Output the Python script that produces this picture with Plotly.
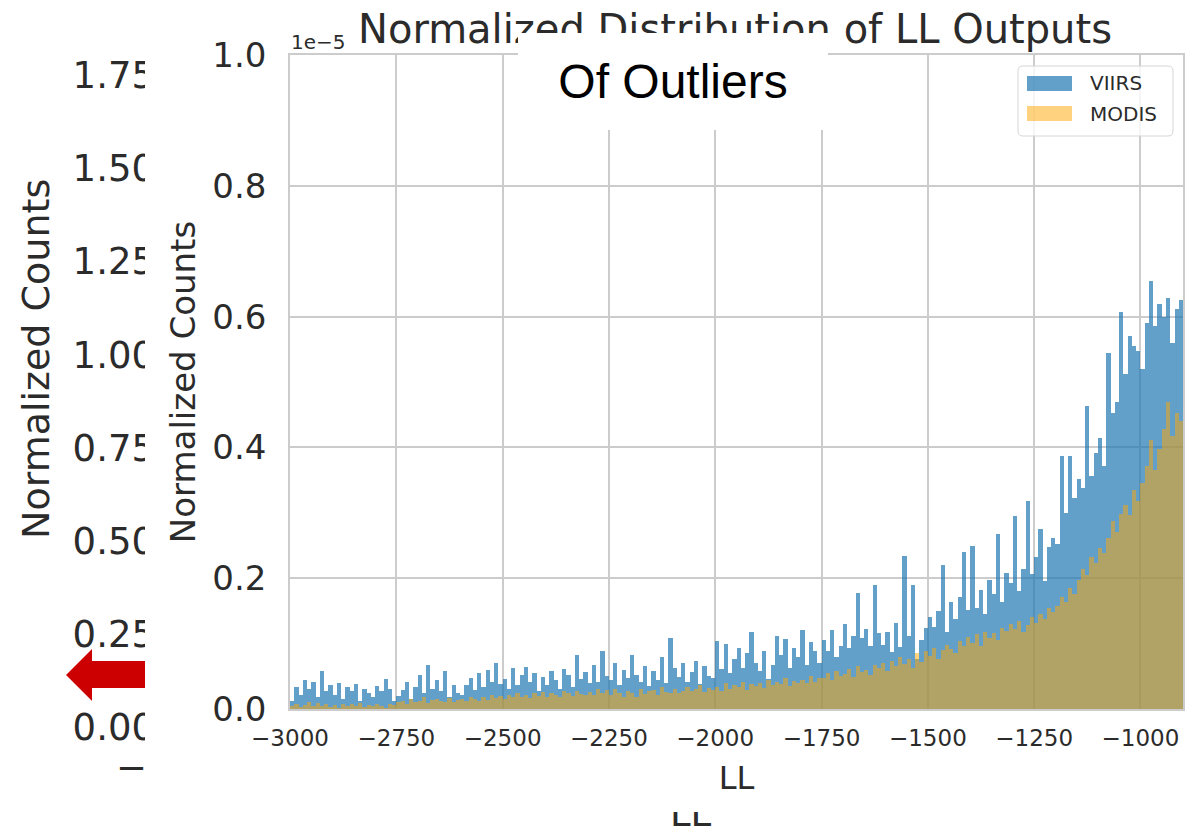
import numpy as np
import plotly.graph_objects as go

W, H = 1191, 838
TXT = "#2b2b2b"
GRID = "#cccccc"

# ---- data -------------------------------------------------------------
# LL histogram: 10-unit bins from -3000 to -900, heights in units of 1e-5
bin_width = 10
bin_left = np.arange(-3000, -900, bin_width)

viirs = [
    0.012, 0.034, 0.021, 0.045, 0.030,  0.041, 0.018, 0.058, 0.027, 0.036,
    0.022, 0.040, 0.015, 0.033, 0.028,  0.038, 0.012, 0.030, 0.024, 0.019,
    0.035, 0.027, 0.046, 0.031, 0.013,  0.020, 0.029, 0.041, 0.016, 0.034,
    0.052, 0.025, 0.067, 0.030, 0.044,  0.028, 0.058, 0.019, 0.036, 0.024,
    0.021, 0.037, 0.048, 0.029, 0.055,  0.033, 0.060, 0.042, 0.071, 0.038,
    0.046, 0.030, 0.063, 0.036, 0.052,  0.064, 0.041, 0.055, 0.028, 0.049,
    0.037, 0.058, 0.045, 0.031, 0.061,  0.052, 0.034, 0.083, 0.046, 0.057,
    0.039, 0.068, 0.041, 0.089, 0.050,  0.044, 0.071, 0.036, 0.060, 0.048,
    0.082, 0.052, 0.041, 0.066, 0.035,  0.058, 0.045, 0.079, 0.039, 0.108,
    0.063, 0.049, 0.070, 0.042, 0.056,  0.073, 0.038, 0.066, 0.051, 0.047,
    0.104, 0.061, 0.099, 0.055, 0.077,  0.094, 0.063, 0.085, 0.118, 0.071,
    0.058, 0.089, 0.046, 0.067, 0.112,  0.083, 0.107, 0.062, 0.094, 0.079,
    0.121, 0.068, 0.102, 0.088, 0.071,  0.105, 0.088, 0.121, 0.079, 0.096,
    0.130, 0.094, 0.112, 0.177, 0.108,  0.122, 0.096, 0.190, 0.116, 0.098,
    0.118, 0.087, 0.131, 0.095, 0.234,  0.112, 0.190, 0.076, 0.105, 0.124,
    0.141, 0.126, 0.150, 0.220, 0.118,  0.163, 0.138, 0.171, 0.240, 0.152,
    0.250, 0.154, 0.182, 0.146, 0.198,  0.176, 0.267, 0.163, 0.208, 0.192,
    0.295, 0.180, 0.214, 0.318, 0.206,  0.232, 0.275, 0.196, 0.248, 0.262,
    0.252, 0.387, 0.300, 0.387, 0.322,  0.352, 0.338, 0.463, 0.356, 0.392,
    0.414, 0.372, 0.545, 0.452, 0.470,  0.607, 0.512, 0.570, 0.555, 0.548,
    0.520, 0.590, 0.655, 0.585, 0.620,  0.600, 0.628, 0.560, 0.612, 0.625,
]

modis = [
    0.004, 0.008, 0.003, 0.006, 0.010,  0.005, 0.009, 0.004, 0.007, 0.003,
    0.006, 0.002, 0.008, 0.005, 0.007,  0.004, 0.009, 0.003, 0.006, 0.005,
    0.008, 0.004, 0.002, 0.007, 0.006,  0.010, 0.013, 0.008, 0.015, 0.011,
    0.012, 0.018, 0.009, 0.014, 0.016,  0.013, 0.011, 0.017, 0.010, 0.014,
    0.015, 0.012, 0.019, 0.016, 0.013,  0.018, 0.014, 0.021, 0.017, 0.020,
    0.016, 0.022, 0.019, 0.025, 0.018,  0.021, 0.017, 0.024, 0.020, 0.026,
    0.019, 0.025, 0.022, 0.018, 0.027,  0.024, 0.020, 0.028, 0.023, 0.021,
    0.026, 0.022, 0.030, 0.025, 0.029,  0.022, 0.031, 0.024, 0.019, 0.028,
    0.025, 0.018, 0.030, 0.023, 0.027,  0.029, 0.022, 0.033, 0.026, 0.024,
    0.031, 0.025, 0.028, 0.034, 0.027,  0.030, 0.036, 0.026, 0.032, 0.029,
    0.034, 0.028, 0.039, 0.031, 0.036,  0.033, 0.041, 0.029, 0.038, 0.035,
    0.040, 0.032, 0.044, 0.037, 0.042,  0.038, 0.047, 0.035, 0.043, 0.040,
    0.045, 0.039, 0.050, 0.042, 0.048,  0.047, 0.055, 0.044, 0.058, 0.051,
    0.053, 0.061, 0.049, 0.066, 0.057,  0.060, 0.052, 0.068, 0.063, 0.071,
    0.058, 0.074, 0.065, 0.080, 0.069,  0.077, 0.062, 0.085, 0.072, 0.088,
    0.081, 0.094, 0.076, 0.090, 0.098,  0.092, 0.085, 0.104, 0.097, 0.110,
    0.101, 0.114, 0.096, 0.118, 0.108,  0.116, 0.105, 0.124, 0.119, 0.130,
    0.122, 0.135, 0.117, 0.128, 0.140,  0.132, 0.146, 0.138, 0.155, 0.149,
    0.158, 0.172, 0.163, 0.185, 0.176,  0.198, 0.214, 0.205, 0.232, 0.224,
    0.246, 0.238, 0.262, 0.287, 0.271,  0.298, 0.312, 0.296, 0.335, 0.318,
    0.345, 0.372, 0.412, 0.365, 0.398,  0.428, 0.470, 0.418, 0.452, 0.440,
]
assert len(viirs) == len(bin_left) == len(modis)

series_names = ["VIIRS", "MODIS"]
series_colors = ["rgba(31,119,180,0.7)", "rgba(255,165,0,0.5)"]

x_ticks = [-3000, -2750, -2500, -2250, -2000, -1750, -1500, -1250, -1000]
y_ticks = [0.0, 0.2, 0.4, 0.6, 0.8, 1.0]
# axis of the panel behind (only its labels remain visible)
back_ticks = [0.0, 0.25, 0.5, 0.75, 1.0, 1.25, 1.5, 1.75]


def fx(p):
    return p / W


def fy(p):
    return 1 - p / H


fig = go.Figure()
for name, vals, col in zip(series_names, [viirs, modis], series_colors):
    fig.add_trace(go.Bar(
        x=bin_left + bin_width / 2, y=vals, width=bin_width, name=name,
        marker=dict(color=col, line=dict(width=0)),
        showlegend=False, hoverinfo="skip",
    ))
# anchor trace for the back panel's axis
fig.add_trace(go.Scatter(x=[None], y=[None], xaxis="x2", yaxis="y2",
                         showlegend=False, hoverinfo="skip"))

back_lo, back_hi = 760, 40            # pixel extent of the back axis
back_px_per_unit = 372.4
back_zero = 727
back_range = [(back_zero - back_lo) / back_px_per_unit,
              (back_zero - back_hi) / back_px_per_unit]

fig.update_layout(
    width=W, height=H,
    margin=dict(l=0, r=0, t=0, b=0, autoexpand=False),
    paper_bgcolor="white", plot_bgcolor="white",
    font=dict(family="DejaVu Sans", color=TXT),
    barmode="overlay", bargap=0,
    xaxis=dict(
        domain=[fx(290), fx(1183)], range=[-3000, -900], anchor="y", automargin=False,
        tickvals=x_ticks, ticktext=["\u2212%d" % abs(v) for v in x_ticks],
        tickfont=dict(size=23, color=TXT), ticks="", ticklabelstandoff=8,
        showgrid=True, gridcolor=GRID, gridwidth=1.5,
        showline=True, mirror=True, linecolor=GRID, linewidth=1.5,
        zeroline=False,
        title=dict(text="LL", font=dict(size=32, color=TXT), standoff=16),
    ),
    yaxis=dict(
        domain=[fy(709), fy(55)], range=[0, 1.0], anchor="x", automargin=False,
        tickvals=y_ticks, tickformat=".1f",
        tickfont=dict(size=34, color=TXT), ticks="", ticklabelstandoff=15,
        showgrid=True, gridcolor=GRID, gridwidth=1.5,
        showline=True, mirror=True, linecolor=GRID, linewidth=1.5,
        zeroline=False,
        title=dict(text="Normalized Counts", font=dict(size=34, color=TXT), standoff=6),
    ),
    xaxis2=dict(domain=[0, 0.04], visible=False, anchor="y2", automargin=False),
    yaxis2=dict(
        domain=[fy(back_lo), fy(back_hi)], range=back_range, automargin=False,
        anchor="free", position=fx(155),
        tickvals=back_ticks, ticktext=["%.2f" % v for v in back_ticks],
        tickfont=dict(size=37, color=TXT), ticks="", ticklabelstandoff=0,
        showgrid=False, showline=False, zeroline=False,
    ),
)

shapes = []
# white edge of the front panel that trims the back panel's labels
shapes.append(dict(type="rect", xref="paper", yref="paper", layer="above",
                   x0=fx(145), x1=fx(166), y0=fy(790), y1=fy(40),
                   fillcolor="white", line=dict(width=0)))
# red arrow pointing left
arrow = [(66, 675), (92, 649), (92, 661), (145, 661), (145, 688), (92, 688), (92, 701)]
path = "M " + " L ".join("%.5f,%.5f" % (fx(a), fy(b)) for a, b in arrow) + " Z"
shapes.append(dict(type="path", xref="paper", yref="paper", layer="above",
                   path=path, fillcolor="#cc0000", line=dict(width=0)))
# legend frame with rounded corners
lx0, lx1, ly0, ly1, r = 1018, 1173, 66, 136, 5
pts = (f"M {fx(lx0 + r)},{fy(ly0)} L {fx(lx1 - r)},{fy(ly0)} "
       f"Q {fx(lx1)},{fy(ly0)} {fx(lx1)},{fy(ly0 + r)} L {fx(lx1)},{fy(ly1 - r)} "
       f"Q {fx(lx1)},{fy(ly1)} {fx(lx1 - r)},{fy(ly1)} L {fx(lx0 + r)},{fy(ly1)} "
       f"Q {fx(lx0)},{fy(ly1)} {fx(lx0)},{fy(ly1 - r)} L {fx(lx0)},{fy(ly0 + r)} "
       f"Q {fx(lx0)},{fy(ly0)} {fx(lx0 + r)},{fy(ly0)} Z")
shapes.append(dict(type="path", xref="paper", yref="paper", layer="above", path=pts,
                   fillcolor="rgba(255,255,255,0.8)", line=dict(color="#d6d6d6", width=1)))
legend_rows = [83.5, 113.5]
for yc, col in zip(legend_rows, series_colors):
    shapes.append(dict(type="rect", xref="paper", yref="paper", layer="above",
                       x0=fx(1027), x1=fx(1072), y0=fy(yc + 7.5), y1=fy(yc - 7.5),
                       fillcolor=col, line=dict(width=0)))
fig.update_layout(shapes=shapes)

ann = []
for yc, name in zip(legend_rows, series_names):
    ann.append(dict(text=name, xref="paper", yref="paper", x=fx(1088), y=fy(yc),
                    xanchor="left", yanchor="middle", showarrow=False,
                    font=dict(size=20, color=TXT)))
# back panel leftovers
ann.append(dict(text="Normalized Counts", xref="paper", yref="paper", x=fx(36), y=fy(359),
                textangle=-90, showarrow=False, xanchor="center", yanchor="middle",
                font=dict(size=38, color=TXT)))
ann.append(dict(text="\u2212", xref="paper", yref="paper", x=fx(149), y=fy(767),
                xanchor="right", yanchor="middle", showarrow=False,
                font=dict(size=37, color=TXT)))
ann.append(dict(text="LL", xref="paper", yref="paper", x=fx(691), y=fy(813),
                xanchor="center", yanchor="middle", showarrow=False,
                font=dict(size=37, color=TXT)))
ann.append(dict(text=" ", xref="paper", yref="paper", x=fx(691), y=fy(801),
                xanchor="center", yanchor="middle", showarrow=False,
                width=90, height=22, bgcolor="white", borderpad=0, borderwidth=0))
# front panel title and exponent
ann.append(dict(text="Normalized Distribution of LL Outputs", xref="paper", yref="paper",
                x=fx(735), y=fy(29), xanchor="center", yanchor="middle", showarrow=False,
                font=dict(size=40, color=TXT)))
ann.append(dict(text="1e\u22125", xref="paper", yref="paper", x=fx(289), y=fy(42),
                xanchor="left", yanchor="middle", showarrow=False,
                font=dict(size=20, color=TXT)))
# caption box laid over the title
ann.append(dict(text="Of Outliers", xref="paper", yref="paper", x=fx(673), y=fy(81.5),
                xanchor="center", yanchor="middle", showarrow=False,
                width=310, height=97, bgcolor="white", borderpad=0, borderwidth=0,
                font=dict(size=48, color="black", family="Liberation Sans")))
fig.update_layout(annotations=ann)

fig.write_html("out.html")
